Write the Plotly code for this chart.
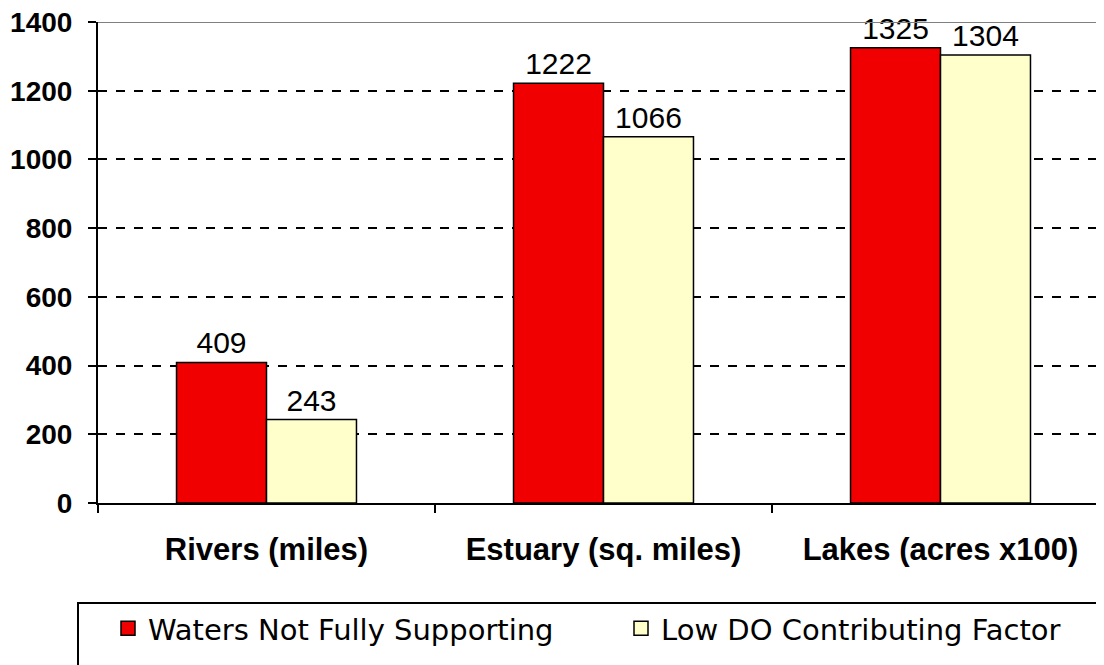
import plotly.graph_objects as go

categories = ["Rivers (miles)", "Estuary (sq. miles)", "Lakes (acres x100)"]
waters_not_fully = [409, 1222, 1325]
low_do = [243, 1066, 1304]
y_ticks = [0, 200, 400, 600, 800, 1000, 1200, 1400]
series_names = ["Waters Not Fully Supporting", "Low DO Contributing Factor"]
series_colors = ["#F00000", "#FFFFCC"]

# page has an 8px body margin; positions are given in screen px and shifted
OFF = 8
W, H = 1104, 665
L, T = 98 - OFF, 22 - OFF
plot_bottom = 503 - OFF
B, R = H - plot_bottom, 0
pw, ph = W - L - R, H - T - B

def px_x(p):
    return (p - OFF - L) / pw

def px_y(p):
    return (H - B - (p - OFF)) / ph

label_font = dict(family="Liberation Sans, Arial", size=30, color="black")

fig = go.Figure()
for name, vals, col in zip(series_names, [waters_not_fully, low_do], series_colors):
    fig.add_trace(go.Bar(
        name=name, x=categories, y=vals, showlegend=False,
        marker=dict(color=col, line=dict(color="black", width=1.5)),
        text=[str(v) for v in vals], textposition="outside",
        textfont=label_font, cliponaxis=False, constraintext="none",
    ))
for i, (name, col) in enumerate(zip(series_names, series_colors)):
    fig.add_trace(go.Scatter(
        name=name, x=[None], y=[None], mode="markers", showlegend=True,
        legend="legend" if i == 0 else "legend2",
        marker=dict(symbol="square", size=14, color=col, line=dict(color="black", width=1.5)),
    ))

legend_common = dict(
    orientation="h", xanchor="left", yanchor="top",
    font=dict(family="DejaVu Sans", size=29, color="black"),
    borderwidth=0, bgcolor="rgba(0,0,0,0)",
)

fig.update_layout(
    width=W, height=H,
    margin=dict(l=L, r=R, t=T, b=B, pad=0, autoexpand=False),
    paper_bgcolor="white", plot_bgcolor="white",
    barmode="group", bargap=0.466, bargroupgap=0,
    showlegend=True,
    legend=dict(x=px_x(108), y=px_y(603), **legend_common),
    legend2=dict(x=px_x(621), y=px_y(603), **legend_common),
    xaxis=dict(
        range=[-0.5, -0.5 + pw / 337.0], automargin=False,
        tickson="boundaries", ticks="outside", ticklen=8, tickwidth=2, tickcolor="black",
        showline=True, linecolor="black", linewidth=2,
        showgrid=False,
        tickfont=dict(family="Liberation Sans, Arial", size=31, color="black", weight="bold"),
        ticklabelstandoff=18,
    ),
    yaxis=dict(
        range=[0, 1400], tickvals=y_ticks, automargin=False, ticklabeloverflow="allow",
        ticks="outside", ticklen=8, tickwidth=2, tickcolor="black",
        showline=True, linecolor="black", linewidth=2,
        showgrid=True, gridcolor="black", gridwidth=2, griddash="dash",
        zeroline=False,
        tickfont=dict(family="Liberation Sans, Arial", size=28, color="black", weight="bold"),
        ticklabelstandoff=10,
    ),
    shapes=[
        dict(type="line", xref="paper", yref="y", x0=0, x1=1, y0=1400, y1=1400,
             line=dict(color="#808080", width=2)),
        dict(type="rect", xref="paper", yref="paper",
             x0=px_x(78), x1=px_x(1120), y0=px_y(603), y1=px_y(700),
             line=dict(color="black", width=2), fillcolor="rgba(0,0,0,0)"),
    ],
)

fig.write_html("out.html")
